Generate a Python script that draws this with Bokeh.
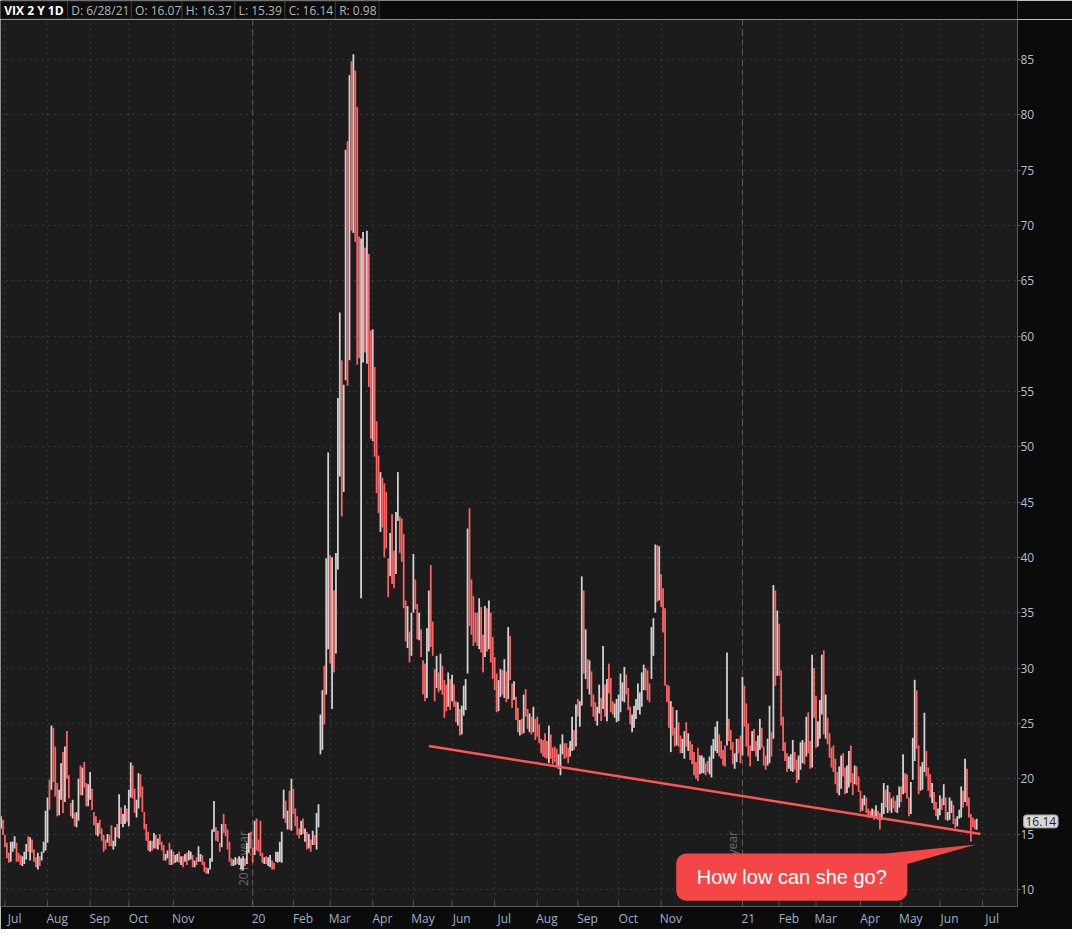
import numpy as np
import pandas as pd
from bokeh.plotting import figure
from bokeh.layouts import column
from bokeh.models import ColumnDataSource, FixedTicker, Label, Span, Range1d
from bokeh.core.properties import value
from bokeh.embed import file_html
from bokeh.resources import INLINE

# ---------------- data (VIX daily, 27 Jun 2019 .. 28 Jun 2021) ----------------
FIRST_DATE = "2019-06-27"
CAL_END = "2021-07-01"
ORIGIN_DATE = "2019-07-01"
HOLIDAYS = ["2019-07-04", "2019-09-02", "2019-11-28", "2019-12-25", "2020-01-01",
            "2020-01-20", "2020-02-17", "2020-04-10", "2020-05-25", "2020-07-03",
            "2020-09-07", "2020-11-26", "2020-12-25", "2021-01-01", "2021-01-18",
            "2021-02-15", "2021-04-02", "2021-05-31"]

HIGH = [
    16.6, 16.3,
    14.9, 14.2, 13.3, 14.3, 14.3, 14.8, 14.2, 13.3, 13.1, 13.0, 13.4, 14.1, 14.8, 14.7, 14.5, 13.6, 12.9, 13.3, 13.0, 13.4, 14.3, 17.1,
    18.3, 19.9, 24.81, 24.6, 22.9, 19.6, 19.0, 21.4, 22.4, 22.9, 24.3, 20.3, 17.8, 18.1, 16.9, 17.0, 20.0, 21.2, 21.0, 21.5, 19.6, 19.5,
    20.6, 19.1, 17.0, 16.6, 16.0, 16.3, 15.5, 14.9, 14.5, 15.0, 14.9, 15.8, 14.4, 15.6, 15.9, 18.6, 17.4, 16.8, 17.6, 17.3,
    19.0, 21.46, 21.2, 19.1, 18.1, 20.5, 20.4, 19.3, 17.0, 15.9, 15.2, 14.4, 14.4, 15.1, 14.9, 14.6, 15.0, 14.3, 14.0, 13.2, 13.5, 14.2, 13.6,
    13.4, 13.1, 13.2, 13.4, 13.0, 13.0, 13.2, 13.3, 13.5, 13.4, 13.1, 12.6, 12.9, 13.9, 13.2, 13.1, 12.5, 12.0, 11.9, 12.8,
    15.4, 17.99, 15.6, 15.3, 14.2, 15.9, 16.8, 15.9, 15.4, 14.3, 12.8, 12.7, 12.9, 12.8, 13.0, 12.8, 13.0, 12.8, 14.2, 15.1, 15.2,
    13.8, 16.2, 16.4, 14.5, 16.2, 13.3, 12.9, 13.0, 12.9, 13.1, 12.6, 12.4, 13.4, 13.4, 14.3, 15.2, 19.0, 18.0, 17.1, 18.9, 19.99,
    19.1, 17.3, 16.6, 15.5, 16.2, 16.4, 15.5, 15.2, 15.0, 14.5, 15.3, 14.9, 16.9, 17.7, 25.8, 28.0, 30.2, 39.9, 49.48,
    40.2, 40.0, 37.0, 40.4, 54.39, 62.12, 57.8, 55.6, 76.83, 77.6, 83.56, 84.83, 85.47, 84.0, 80.7, 69.0, 68.8, 69.4, 68.0, 69.5, 67.4, 60.5,
    60.6, 57.2, 52.3, 49.2, 47.7, 47.2, 46.7, 45.9, 39.9, 42.2, 43.9, 40.6, 44.1, 47.7, 43.7, 43.5, 42.1, 36.1, 35.6, 33.3, 35.0,
    40.3, 38.0, 35.8, 35.0, 33.5, 30.7, 30.4, 33.6, 37.0, 39.3, 34.2, 29.9, 31.1, 29.6, 31.3, 30.2, 28.9, 28.5, 29.6, 29.0,
    29.4, 28.5, 27.0, 26.9, 26.3, 26.6, 28.4, 29.0, 42.6, 44.44, 38.0, 36.5, 35.0, 35.0, 36.3, 35.5, 33.0, 35.6, 35.4, 36.1, 35.0, 32.8,
    31.0, 29.5, 28.9, 29.9, 29.8, 30.8, 29.7, 33.7, 32.9, 28.6, 28.8, 27.4, 26.4, 25.3, 25.4, 27.6, 28.1, 26.3, 25.9, 25.6, 26.5, 25.4,
    25.6, 24.9, 23.6, 23.5, 24.1, 23.4, 24.8, 24.0, 22.8, 22.9, 22.7, 22.2, 23.1, 24.0, 23.2, 23.2, 22.8, 23.4, 25.6, 24.4, 26.7,
    27.2, 27.0, 38.28, 37.0, 33.5, 30.8, 30.7, 29.7, 27.6, 26.9, 26.5, 28.5, 27.3, 32.0, 28.5, 29.0, 30.4, 29.1, 27.0, 26.8, 27.2,
    27.6, 29.5, 28.7, 30.1, 29.4, 28.2, 26.5, 25.8, 26.6, 27.2, 28.6, 27.8, 29.6, 30.3, 30.0, 29.8, 28.6, 33.7, 34.5, 41.16, 41.1, 41.0,
    38.5, 37.2, 35.4, 28.5, 28.4, 27.0, 26.5, 24.6, 26.2, 25.1, 23.9, 23.6, 24.3, 25.1, 24.1, 23.4, 23.1, 22.4, 21.5, 22.8,
    22.1, 22.1, 21.9, 21.4, 21.6, 22.0, 23.0, 23.6, 24.7, 25.2, 24.0, 23.4, 22.6, 23.0, 31.4, 25.4, 24.4, 23.3, 22.3, 23.6, 23.6, 23.9,
    29.2, 28.4, 26.8, 25.0, 23.0, 24.3, 24.5, 23.4, 23.9, 25.4, 24.6, 22.9, 22.1, 23.6, 26.6, 24.2, 37.51, 37.0, 35.2,
    34.0, 29.8, 25.6, 23.3, 22.3, 22.0, 22.2, 23.5, 22.4, 21.7, 22.1, 23.3, 23.5, 23.3, 25.6, 26.0, 23.4, 31.2, 30.0,
    27.5, 25.2, 27.1, 31.2, 31.6, 27.6, 25.5, 24.1, 22.8, 23.0, 21.8, 20.6, 21.1, 22.1, 22.3, 21.0, 21.2, 22.5, 23.0, 20.5, 21.2, 21.1, 20.2,
    18.9, 18.2, 18.5, 18.3, 17.3, 17.1, 17.3, 17.2, 17.6, 17.1, 16.9, 17.8, 19.6, 19.0, 19.4, 18.8, 18.2, 18.4, 18.0, 18.5, 19.3,
    19.3, 22.2, 20.5, 20.4, 18.3, 19.7, 23.7, 28.93, 28.0, 23.0, 21.1, 21.5, 25.96, 22.5, 21.0, 20.4, 19.6, 18.8, 17.9, 17.3,
    18.5, 18.2, 19.5, 18.3, 17.0, 18.3, 18.0, 17.6, 16.4, 16.6, 17.2, 19.3, 18.9, 21.8, 20.9, 18.3, 16.8, 16.5, 16.3, 16.37,
]

LOW = [
    15.5, 14.9,
    13.8, 12.8, 12.4, 12.5, 13.4, 13.7, 12.5, 12.5, 12.2, 12.1, 12.3, 12.7, 13.4, 12.6, 13.3, 12.5, 12.0, 11.8, 12.1, 12.6, 13.3, 13.5,
    14.2, 17.2, 19.0, 19.7, 18.4, 16.6, 16.7, 18.1, 16.9, 17.9, 20.0, 18.2, 16.6, 16.4, 15.7, 15.6, 16.2, 18.5, 18.5, 19.2, 17.5, 17.5,
    18.1, 17.2, 15.8, 14.9, 14.8, 15.0, 14.4, 13.4, 13.6, 14.2, 13.9, 13.9, 13.6, 13.9, 14.7, 14.6, 15.9, 15.6, 15.9, 16.1,
    15.7, 18.3, 18.2, 16.9, 16.5, 17.3, 18.3, 17.0, 15.4, 14.4, 13.5, 13.4, 13.5, 13.7, 13.7, 13.6, 14.0, 13.5, 12.6, 12.6, 12.8, 12.2, 12.2,
    12.3, 12.4, 12.5, 12.4, 12.2, 12.0, 12.5, 12.2, 12.6, 12.7, 12.0, 12.0, 12.2, 12.5, 12.5, 12.2, 11.6, 11.4, 11.4, 11.8,
    12.5, 15.2, 14.4, 14.3, 13.4, 13.8, 15.1, 14.8, 13.6, 12.5, 12.1, 12.1, 12.2, 12.3, 12.2, 11.8, 11.7, 12.1, 12.3, 13.3, 13.7,
    12.4, 13.1, 13.5, 13.4, 13.0, 12.4, 12.3, 12.3, 12.1, 12.0, 11.8, 11.8, 12.5, 12.4, 12.5, 12.4, 16.4, 16.0, 15.4, 15.4, 15.3,
    16.8, 15.7, 14.9, 14.6, 14.9, 15.0, 14.3, 13.6, 13.7, 13.4, 14.0, 14.0, 13.6, 15.6, 22.2, 22.6, 24.9, 27.6, 31.7,
    30.4, 26.3, 29.6, 31.3, 38.9, 47.3, 43.7, 45.9, 56.0, 55.5, 57.8, 69.5, 69.3, 68.5, 57.4, 58.0, 36.3, 57.6, 58.5, 57.5, 55.4, 50.7,
    50.5, 49.1, 45.8, 44.0, 42.3, 42.7, 40.0, 40.8, 36.4, 38.3, 37.6, 37.2, 38.5, 43.3, 40.4, 39.6, 35.4, 32.4, 31.8, 30.5, 31.1,
    35.0, 35.3, 32.6, 32.5, 31.0, 27.6, 27.0, 27.3, 31.5, 31.9, 31.1, 27.0, 28.2, 27.8, 28.0, 27.6, 25.5, 26.1, 26.5, 26.2,
    27.0, 26.5, 25.1, 24.8, 23.9, 24.0, 25.7, 26.2, 29.5, 33.8, 33.0, 32.0, 32.3, 32.0, 31.7, 31.4, 29.6, 31.0, 31.5, 31.7, 30.5, 29.0,
    28.0, 26.0, 26.1, 27.4, 27.6, 27.3, 26.9, 27.2, 28.9, 26.4, 27.1, 25.3, 24.2, 23.9, 24.0, 24.1, 25.6, 24.5, 24.2, 24.0, 24.2, 23.5,
    23.8, 23.2, 22.3, 22.0, 21.9, 21.8, 21.4, 21.8, 21.3, 21.5, 21.1, 20.9, 20.3, 22.2, 21.8, 21.9, 21.4, 22.0, 22.5, 22.6, 22.9,
    25.6, 24.7, 26.6, 29.5, 29.0, 28.1, 27.6, 26.5, 25.6, 25.2, 24.8, 25.9, 25.2, 26.3, 25.6, 25.2, 27.7, 26.0, 25.8, 25.5, 25.1,
    25.2, 26.0, 27.0, 26.9, 27.6, 26.2, 24.9, 24.2, 24.6, 25.4, 26.2, 25.8, 26.5, 28.0, 28.0, 27.1, 26.9, 29.0, 31.1, 35.0, 36.0, 36.1,
    35.5, 33.2, 28.4, 26.9, 24.6, 22.4, 23.9, 22.9, 23.0, 22.9, 22.3, 22.3, 21.8, 22.9, 22.5, 21.7, 21.3, 20.3, 20.0, 19.8,
    20.4, 20.5, 20.5, 20.3, 20.6, 20.4, 20.1, 21.8, 22.5, 22.3, 22.0, 21.8, 21.2, 21.1, 23.0, 23.4, 22.6, 21.3, 20.9, 21.5, 22.3, 21.4,
    22.1, 24.7, 22.9, 22.0, 21.1, 22.5, 22.5, 22.0, 21.6, 22.6, 22.8, 21.2, 20.8, 21.2, 21.4, 22.0, 23.6, 28.4, 29.3,
    29.3, 24.8, 22.5, 21.6, 20.6, 20.9, 20.7, 20.6, 20.8, 19.6, 19.9, 20.8, 21.4, 21.3, 22.0, 22.3, 20.9, 21.0, 25.5,
    22.8, 22.9, 23.6, 25.8, 24.0, 23.6, 23.1, 21.9, 21.0, 20.6, 19.5, 18.7, 18.5, 19.1, 20.2, 18.6, 18.7, 19.2, 19.6, 18.5, 19.5, 19.4, 18.8,
    17.0, 17.1, 17.6, 16.9, 16.5, 16.5, 16.5, 16.3, 16.4, 16.3, 15.4, 16.3, 16.8, 17.4, 16.9, 17.1, 16.9, 17.3, 17.0, 16.9, 17.4,
    17.9, 18.6, 18.7, 18.2, 16.6, 16.8, 19.9, 21.6, 22.7, 18.6, 18.9, 19.0, 20.6, 20.2, 18.9, 18.3, 17.8, 17.2, 16.6, 16.3,
    16.7, 17.2, 17.6, 16.3, 16.2, 16.3, 16.9, 15.9, 15.5, 15.7, 16.4, 16.5, 17.4, 17.9, 17.5, 16.5, 14.3, 15.6, 15.4, 15.39,
]

CLOSE = [
    15.82, 15.08,
    14.06, 12.93, 12.57, 13.28, 13.96, 14.09, 13.03, 12.93, 12.39, 12.68, 12.86, 13.97, 13.53, 14.45, 13.53, 12.61, 12.07, 12.74, 12.16, 13.20, 13.94, 16.12,
    17.87, 17.61, 24.59, 20.17, 19.49, 16.91, 17.97, 21.09, 17.52, 22.10, 21.18, 18.47, 16.88, 17.50, 15.80, 16.68, 19.87, 19.32, 20.31, 19.35, 17.88, 18.98,
    19.66, 17.33, 16.27, 15.00, 15.27, 15.20, 14.61, 14.22, 13.74, 14.67, 14.44, 13.95, 14.05, 15.32, 14.91, 17.05, 15.96, 16.07, 17.22, 16.24,
    18.56, 20.56, 19.12, 17.04, 17.86, 20.28, 18.64, 17.57, 15.58, 14.57, 13.54, 14.00, 13.68, 14.25, 14.00, 14.46, 14.01, 13.71, 12.65, 13.11, 13.20, 12.33, 13.22,
    12.30, 12.83, 13.10, 12.62, 12.73, 12.07, 12.69, 12.68, 13.00, 13.05, 12.05, 12.46, 12.41, 12.78, 12.90, 12.34, 11.87, 11.54, 11.75, 12.62,
    14.91, 15.96, 14.80, 14.52, 13.62, 15.86, 15.68, 14.99, 13.94, 12.63, 12.14, 12.29, 12.58, 12.50, 12.51, 12.61, 12.67, 12.65, 13.43, 14.82, 13.78,
    12.47, 14.02, 13.85, 13.79, 13.45, 12.54, 12.56, 12.32, 12.39, 12.42, 12.32, 12.10, 12.85, 12.91, 12.98, 14.56, 18.23, 16.28, 16.39, 15.49, 18.84,
    17.97, 16.05, 15.15, 14.96, 15.47, 15.04, 15.18, 13.74, 14.15, 13.68, 14.83, 14.38, 15.56, 17.08, 25.03, 27.85, 27.56, 39.16, 40.11,
    33.42, 36.82, 31.99, 39.62, 41.94, 54.46, 47.30, 53.90, 75.47, 57.83, 82.69, 75.91, 76.45, 72.00, 66.04, 61.59, 61.67, 63.95, 61.00, 65.54, 57.08, 53.54,
    57.06, 50.91, 46.80, 45.24, 46.70, 43.35, 41.67, 41.17, 37.76, 40.84, 40.11, 38.15, 43.83, 45.41, 41.98, 41.38, 35.93, 33.29, 33.57, 31.23, 34.15,
    37.19, 35.97, 33.61, 34.12, 31.44, 27.98, 27.57, 33.04, 35.28, 32.61, 31.89, 29.30, 30.53, 27.99, 29.53, 28.16, 28.01, 27.62, 28.59, 27.51,
    28.23, 26.84, 25.66, 25.81, 24.52, 25.81, 27.57, 27.57, 40.79, 36.09, 34.40, 33.67, 33.47, 32.94, 35.12, 31.77, 31.37, 33.84, 32.22, 34.73, 31.78, 30.43,
    28.62, 27.68, 27.94, 29.43, 28.08, 29.26, 27.29, 32.19, 29.52, 27.76, 28.00, 25.68, 24.46, 24.84, 24.32, 26.08, 25.84, 24.74, 25.44, 24.10, 24.76, 24.46,
    24.28, 23.76, 22.99, 22.65, 22.21, 22.13, 24.03, 22.28, 22.13, 22.05, 21.35, 21.51, 22.54, 22.72, 22.54, 22.37, 22.03, 23.27, 24.47, 22.96, 26.41,
    26.12, 26.57, 33.60, 30.75, 31.46, 28.81, 29.71, 26.87, 25.85, 25.59, 26.04, 26.46, 25.83, 27.78, 25.79, 28.58, 28.51, 26.38, 26.19, 26.27, 26.37,
    26.70, 27.63, 27.96, 29.48, 28.06, 26.36, 25.00, 25.07, 26.07, 26.40, 26.97, 27.41, 29.18, 29.35, 28.65, 28.11, 27.55, 32.46, 33.35, 40.28, 37.59, 38.02,
    37.13, 35.55, 29.57, 27.58, 24.86, 25.75, 24.80, 23.45, 25.35, 23.10, 22.45, 22.71, 23.84, 23.11, 23.70, 22.66, 21.64, 21.25, 20.84, 20.57,
    20.77, 21.17, 21.28, 20.79, 20.68, 21.30, 22.27, 22.52, 23.31, 24.72, 22.89, 22.50, 21.93, 21.57, 25.16, 24.23, 23.31, 21.53, 21.70, 23.08, 22.77, 22.75,
    26.97, 25.34, 25.07, 22.37, 21.56, 24.08, 23.33, 22.21, 23.25, 24.34, 23.24, 21.58, 21.32, 21.91, 23.19, 23.02, 37.21, 30.21, 33.09,
    30.24, 25.56, 22.91, 21.77, 20.87, 21.24, 21.63, 21.99, 21.25, 19.97, 21.46, 21.50, 22.49, 22.05, 23.45, 23.11, 21.34, 28.89, 27.95,
    23.35, 24.10, 26.67, 28.57, 24.66, 25.47, 24.03, 22.56, 21.91, 20.69, 19.79, 19.23, 19.23, 21.58, 20.95, 18.88, 20.30, 21.20, 19.81, 18.86, 20.74, 19.61, 19.40,
    17.33, 17.91, 18.12, 17.16, 16.95, 16.69, 16.91, 16.65, 16.99, 16.57, 16.25, 17.29, 18.68, 17.50, 18.71, 17.33, 17.64, 17.56, 17.28, 17.61, 18.61,
    18.31, 19.48, 19.15, 18.39, 16.69, 19.66, 21.84, 27.59, 23.13, 18.81, 19.72, 21.34, 22.18, 20.67, 20.15, 18.40, 18.84, 17.36, 16.74, 16.76,
    17.90, 17.48, 18.04, 16.42, 16.42, 17.07, 17.89, 16.10, 15.65, 16.39, 17.02, 18.15, 17.75, 20.70, 17.89, 16.66, 16.32, 15.97, 15.62, 16.14,
]

LAST_DATE_LABEL = "6/28/21"
LAST_OPEN = 16.07
SYMBOL_LABEL = "VIX 2 Y 1D"
MONTH_NAMES = ["", "Jan", "Feb", "Mar", "Apr", "May", "Jun", "Jul", "Aug", "Sep", "Oct", "Nov", "Dec"]
Y_TICKS = [10, 15, 20, 25, 30, 35, 40, 45, 50, 55, 60, 65, 70, 75, 80, 85]

# support line drawn on the chart (date, level)
TREND_DATES = ["2020-05-13", "2021-06-30"]
TREND_LEVELS = [22.95, 15.0]
CALLOUT_TEXT = "How low can she go?"

# ---------------- styling ----------------
UP = "#d2d2d2"
DOWN = "#ff6262"
FRAME_BG = "#1c1c1c"
OUTER_BG = "#0b0b0b"
AXIS_COL = "#5a5a5a"
YLABEL_COL = "#b6bfcc"
XLABEL_COL = "#9fb0c6"
CALLOUT_COL = "#f44646"
FONT = "Open Sans"

W, H = 1072, 929
HEADER_H = 19
BORDER_R, BORDER_B = 52, 19
MAIN_H = H - HEADER_H

# ---------------- derived positions ----------------
cal = pd.bdate_range(FIRST_DATE, CAL_END)
cal = cal[~cal.isin(pd.to_datetime(HOLIDAYS))]
origin = int(cal.get_loc(pd.Timestamp(ORIGIN_DATE)))
pos = {d: i - origin for i, d in enumerate(cal)}

n = min(len(HIGH), len(LOW), len(CLOSE), len(cal))
idx = np.arange(n) - origin
prev = [CLOSE[0]] + CLOSE[:n - 1]
colors = [UP if c >= pc else DOWN for c, pc in zip(CLOSE[:n], prev)]

month_ticks, month_labels, year_ticks = [], {}, []
seen = set()
for d in cal:
    key = (d.year, d.month)
    if key in seen:
        continue
    seen.add(key)
    i = pos[d]
    if i < 0 or d.month == 12:
        continue
    month_ticks.append(i)
    if d.month == 1:
        month_labels[i] = f"{d.year % 100:02d}"
        year_ticks.append((i, f"{d.year - 1} year"))
    else:
        month_labels[i] = MONTH_NAMES[d.month]

X0, X1 = -2.29, 523.1
Y0, Y1 = 8.45, 88.6
px_per_idx = (W - BORDER_R) / (X1 - X0)
px_per_val = (MAIN_H - BORDER_B) / (Y1 - Y0)

# month labels start at their tick (left aligned): shift the label tick by half the text width
label_ticks, label_over = [], {}
for i in month_ticks:
    lab = month_labels[i]
    t = int(round(i + (len(lab) * 6.7 / 2) / px_per_idx))
    label_ticks.append(t)
    label_over[t] = lab

# ---------------- header strip ----------------
hdr = [SYMBOL_LABEL, f"D: {LAST_DATE_LABEL}", f"O: {LAST_OPEN:.2f}",
       f"H: {HIGH[n - 1]:.2f}", f"L: {LOW[n - 1]:.2f}", f"C: {CLOSE[n - 1]:.2f}",
       f"R: {HIGH[n - 1] - LOW[n - 1]:.2f}"]
CELL_EDGES = [0, 70.6, 137.9, 191.4, 247.0, 299.8, 353.0, 399.0]

hf = figure(width=W, height=HEADER_H, output_backend="svg", toolbar_location=None,
            x_range=Range1d(0, W), y_range=Range1d(0, HEADER_H),
            x_axis_location=None, y_axis_location=None, min_border=0,
            background_fill_color=OUTER_BG, border_fill_color=OUTER_BG)
hf.outline_line_color = None
hf.xgrid.visible = False
hf.ygrid.visible = False
hf.quad(left=CELL_EDGES[:-1], right=CELL_EDGES[1:], top=HEADER_H - 0.5, bottom=0.5,
        fill_color="#0d0d0d", line_color="#3a3a3a", line_width=1)
hf.text(x=[CELL_EDGES[0] + 4], y=[HEADER_H / 2], text=hdr[:1], text_align="left",
        text_baseline="middle", text_color="#ffffff", text_font=value(FONT),
        text_font_size="12px", text_font_style="bold")
hf.text(x=[e + 4 for e in CELL_EDGES[1:-1]], y=[HEADER_H / 2] * (len(hdr) - 1), text=hdr[1:],
        text_align="left", text_baseline="middle", text_color="#b4b4b4",
        text_font=value(FONT), text_font_size="12px")

# ---------------- main chart ----------------
p = figure(width=W, height=MAIN_H, output_backend="svg", toolbar_location=None,
           x_range=Range1d(X0, X1), y_range=Range1d(Y0, Y1),
           y_axis_location="right", min_border_left=0, min_border_right=BORDER_R,
           min_border_top=0, min_border_bottom=BORDER_B,
           background_fill_color=FRAME_BG, border_fill_color=OUTER_BG)
p.outline_line_color = None

xa = p.xaxis[0]
xa.ticker = FixedTicker(ticks=label_ticks)
xa.major_label_overrides = label_over
xa.major_tick_in = 0
xa.major_tick_out = 0
xa.major_tick_line_color = None
xa.minor_tick_line_color = None
xa.axis_line_color = AXIS_COL
xa.major_label_text_color = XLABEL_COL
xa.major_label_text_font = FONT
xa.major_label_text_font_size = "12px"
xa.major_label_standoff = 3

ya = p.yaxis[0]
ya.ticker = FixedTicker(ticks=Y_TICKS)
ya.major_tick_in = 0
ya.major_tick_out = 3
ya.minor_tick_line_color = None
ya.axis_line_color = AXIS_COL
ya.major_tick_line_color = AXIS_COL
ya.major_label_text_color = YLABEL_COL
ya.major_label_text_font = FONT
ya.major_label_text_font_size = "12px"
ya.major_label_standoff = 0

p.xgrid[0].ticker = FixedTicker(ticks=month_ticks)
for g in (p.xgrid[0], p.ygrid[0]):
    g.grid_line_color = "#575757"
    g.grid_line_dash = "1 5"
    g.grid_line_width = 1

# small inward month tick marks on the time axis
p.segment(x0=month_ticks, y0=[Y0] * len(month_ticks), x1=month_ticks,
          y1=[Y0 + 5 / px_per_val] * len(month_ticks), line_color=AXIS_COL, line_width=1)

# year separators
for i, txt in year_ticks:
    p.add_layout(Span(location=i, dimension="height", line_color="#5c5c5c",
                      line_dash="6 4", line_width=1, level="underlay"))
    p.add_layout(Label(x=i, y=10.3, text=txt, angle=np.pi / 2, x_offset=-1,
                       text_align="left", text_baseline="bottom",
                       text_color="#6a6a6a", text_font=FONT, text_font_size="12px",
                       level="underlay"))

# price bars
src = ColumnDataSource(dict(x=idx, top=HIGH[:n], bottom=LOW[:n], color=colors))
p.vbar(x="x", top="top", bottom="bottom", width=0.92, fill_color="color",
       line_color=None, source=src)

# support line
tx = [pos[pd.Timestamp(d)] for d in TREND_DATES]
p.line(x=tx, y=TREND_LEVELS, line_color="#ff5555", line_width=2.5)

# callout
BOX_L, BOX_R, BOX_T, BOX_B = 346.8, 466.2, 13.23, 8.98
p.quad(left=[BOX_L], right=[BOX_R], top=[BOX_T], bottom=[BOX_B], border_radius=10,
       fill_color=CALLOUT_COL, line_color=None)
p.patch(x=[455.0, 501.8, 466.2], y=[BOX_T, 14.05, 12.3], fill_color=CALLOUT_COL,
        line_color=None)
p.text(x=[(BOX_L + BOX_R) / 2], y=[(BOX_T + BOX_B) / 2], text=[CALLOUT_TEXT],
       text_align="center", text_baseline="middle", text_color="white",
       text_font=value("Liberation Sans"), text_font_size="20px")

# last price tag, placed in the right-hand side panel (outside the frame)
tag_units = "canvas"
try:
    Label(x=0, y=0, x_units="canvas")
except Exception:
    tag_units = "screen"
tag = Label(x=W - BORDER_R + 3, x_units=tag_units, y=CLOSE[n - 1], y_units="data",
            text=f"{CLOSE[n - 1]:.2f}", text_align="left", text_baseline="middle",
            text_color="#1e1e1e", text_font=FONT, text_font_size="12px",
            background_fill_color="#d8d8d8", border_line_color="#9a9a9a",
            border_radius=3, padding=2)
p.add_layout(tag, "right")

layout = column(hf, p, spacing=0)
open("out.html", "w").write(file_html(layout, INLINE))
